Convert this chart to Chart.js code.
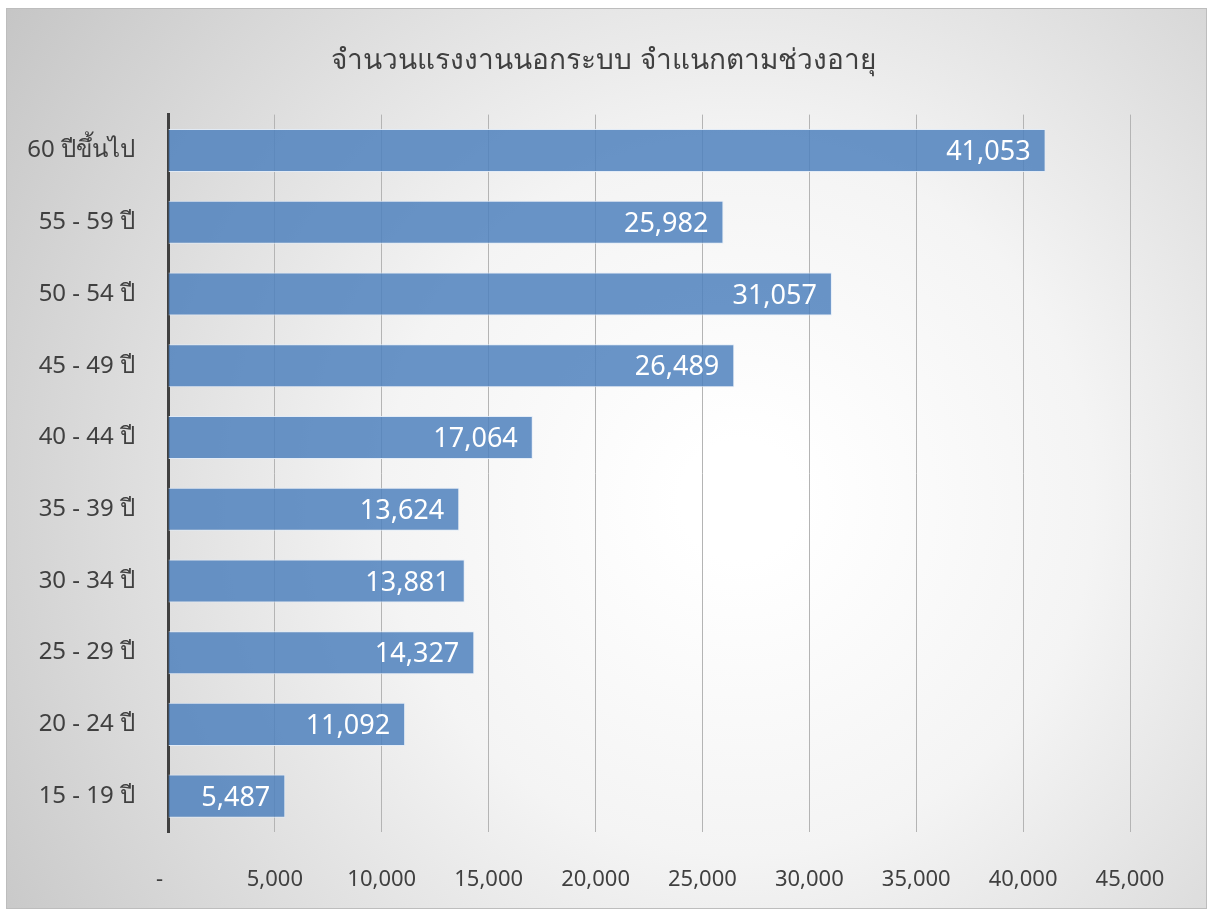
<!DOCTYPE html>
<html>
<head>
<meta charset="utf-8">
<script src="https://cdn.jsdelivr.net/npm/chart.js@4"></script>
<style>
	html, body { margin: 0; padding: 0; background: #fff; }
	#box { width: 1207px; height: 909px; }
</style>
</head>
<body>
<div id="box"><canvas id="myChart"></canvas></div>
<script>
const ageGroups = ["60 ปีขึ้นไป", "55 - 59 ปี", "50 - 54 ปี", "45 - 49 ปี", "40 - 44 ปี",
	"35 - 39 ปี", "30 - 34 ปี", "25 - 29 ปี", "20 - 24 ปี", "15 - 19 ปี"];
const workers = [41053, 25982, 31057, 26489, 17064, 13624, 13881, 14327, 11092, 5487];
const xTicks = [0, 5000, 10000, 15000, 20000, 25000, 30000, 35000, 40000, 45000];
const chartTitle = "จำนวนแรงงานนอกระบบ จำแนกตามช่วงอายุ";

const fontFamily = '"Noto Sans", "Open Sans", sans-serif';

// card background: grey frame + radial fade to white
const cardBackground = {
	id: "cardBackground",
	beforeDraw(chart) {
		const ctx = chart.ctx;
		const w = chart.width, h = chart.height;
		ctx.save();
		const g = ctx.createRadialGradient(740, 500, 60, 740, 500, 900);
		g.addColorStop(0, "#ffffff");
		g.addColorStop(0.35, "#f4f4f4");
		g.addColorStop(1, "#c4c4c4");
		ctx.fillStyle = g;
		ctx.fillRect(7, 9, w - 8, h - 10);
		ctx.strokeStyle = "#bdbdbd";
		ctx.lineWidth = 1;
		ctx.strokeRect(6.5, 8.5, w - 7, h - 9);
		ctx.restore();
	}
};

// value labels drawn inside the end of each bar
const barValues = {
	id: "barValues",
	afterDatasetsDraw(chart) {
		const ctx = chart.ctx;
		const meta = chart.getDatasetMeta(0);
		ctx.save();
		ctx.font = "27px " + fontFamily;
		ctx.fillStyle = "#ffffff";
		ctx.textAlign = "right";
		ctx.textBaseline = "middle";
		meta.data.forEach((bar, i) => {
			ctx.fillText(workers[i].toLocaleString("en-US"), bar.x - 15, bar.y + 2);
		});
		ctx.restore();
	}
};

new Chart(document.getElementById("myChart"), {
	type: "bar",
	data: {
		labels: ageGroups,
		datasets: [{
			data: workers,
			backgroundColor: "rgba(79, 129, 189, 0.85)",
			borderColor: "rgba(225, 235, 247, 0.9)",
			borderWidth: 1,
			barPercentage: 0.6,
			categoryPercentage: 1
		}]
	},
	options: {
		indexAxis: "y",
		responsive: true,
		maintainAspectRatio: false,
		animation: false,
		layout: { padding: { top: 28, left: 7, right: 7, bottom: 15 } },
		plugins: {
			legend: { display: false },
			tooltip: { enabled: false },
			title: {
				display: true,
				text: chartTitle,
				color: "#404040",
				font: { family: fontFamily, size: 28, weight: "normal" },
				padding: { top: 16, bottom: 37 }
			}
		},
		scales: {
			x: {
				min: 0,
				max: 45000,
				afterBuildTicks(scale) {
					scale.ticks = xTicks.map((v) => ({ value: v }));
				},
				afterFit(scale) { scale.height = 62; },
				grid: { color: "#b4b4b4", lineWidth: 1, drawTicks: false },
				border: { display: false },
				ticks: {
					padding: 35,
					color: "#404040",
					font: { family: fontFamily, size: 22 },
					callback: (v) => (v === 0 ? "-   " : v.toLocaleString("en-US"))
				}
			},
			y: {
				afterFit(scale) { scale.width = 161; },
				grid: { display: false, drawTicks: false },
				border: { display: true, color: "#404040", width: 3 },
				ticks: {
					padding: 33,
					color: "#404040",
					font: { family: fontFamily, size: 24 }
				}
			},
			// empty right-hand axis that only reserves the margin right of the plot
			yRight: {
				type: "category",
				position: "right",
				labels: ageGroups,
				afterFit(scale) { scale.width = 70; },
				grid: { display: false, drawTicks: false },
				border: { display: false },
				ticks: { display: false }
			}
		}
	},
	plugins: [cardBackground, barValues]
});
</script>
</body>
</html>
